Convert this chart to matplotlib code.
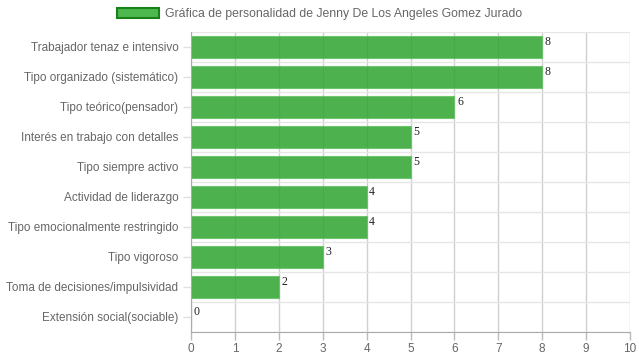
import matplotlib
matplotlib.use("Agg")
import matplotlib.pyplot as plt
from matplotlib.patches import Patch

categories = [
    "Trabajador tenaz e intensivo",
    "Tipo organizado (sistemático)",
    "Tipo teórico(pensador)",
    "Interés en trabajo con detalles",
    "Tipo siempre activo",
    "Actividad de liderazgo",
    "Tipo emocionalmente restringido",
    "Tipo vigoroso",
    "Toma de decisiones/impulsividad",
    "Extensión social(sociable)",
]
values = [8, 8, 6, 5, 5, 4, 4, 3, 2, 0]
x_ticks = list(range(0, 11))
series_name = "Gráfica de personalidad de Jenny De Los Angeles Gomez Jurado"

plt.rcParams["font.family"] = ["Liberation Sans", "DejaVu Sans"]

fig = plt.figure(figsize=(6.39, 3.6), dpi=100)
ax = fig.add_axes([191 / 639, 1 - 332 / 360, 439 / 639, 300 / 360])

n = len(categories)
pos = list(range(n))

# grid lines under the bars
for x in x_ticks:
    ax.axvline(x, color="#d0d0d0", lw=1, zorder=0)
for i in range(n + 1):
    ax.axhline(i - 0.5, color="#e6e6e6", lw=1, zorder=0)

ax.barh(pos, values, height=0.72, color="#2ea52e", alpha=0.85,
        edgecolor="#66c266", linewidth=0.8, zorder=2)

for p, v in zip(pos, values):
    ax.text(v + 0.06, p - 0.38, str(v), ha="left", va="top",
            fontsize=8.5, family="Liberation Serif", color="#222222", zorder=3)

ax.set_xlim(0, 10)
ax.set_ylim(n - 0.5, -0.5)
ax.set_xticks(x_ticks)
ax.set_yticks(pos)
ax.set_yticklabels(categories)
ax.tick_params(axis="both", colors="#666666", labelsize=8.5, length=6, width=1)
ax.tick_params(axis="x", colors="#bbbbbb", labelcolor="#666666", pad=2)
ax.tick_params(axis="y", colors="#e0e0e0", labelcolor="#666666", pad=3)

for side in ["top", "right"]:
    ax.spines[side].set_visible(False)
ax.spines["left"].set_color("#aaaaaa")
ax.spines["bottom"].set_color("#aaaaaa")

handle = Patch(facecolor="#4db84d", edgecolor="#1a801a", linewidth=1.5)
fig.legend([handle], [series_name], loc="center", bbox_to_anchor=(0.5, 1 - 14 / 360),
           frameon=False, fontsize=8.8, handlelength=3.4, handleheight=0.9,
           handletextpad=0.5, labelcolor="#666666")

fig.savefig("out.png", dpi=100)
